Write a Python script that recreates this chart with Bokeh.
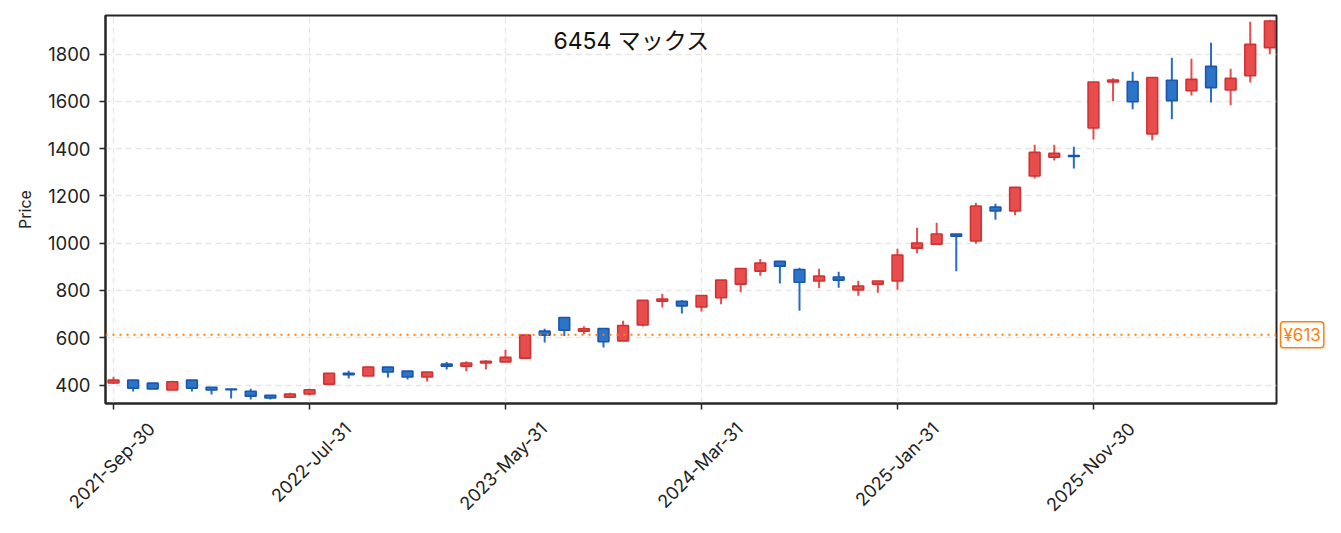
import math
from bokeh.plotting import figure
from bokeh.layouts import row
from bokeh.models import (Range1d, FixedTicker, Label, Span, ColumnDataSource)
from bokeh.embed import file_html
from bokeh.resources import INLINE

# ---- data (monthly OHLC, 6454 マックス) ----
opens = [409, 421, 408, 379, 421, 391, 383, 374, 357, 349,
         362, 404, 450, 438, 476, 459, 434, 489, 480, 493,
         498, 514, 628, 686, 628, 639, 587, 654, 755, 754,
         730, 769, 827, 882, 923, 889, 840, 857, 802, 827,
         840, 979, 996, 1039, 1009, 1153, 1136, 1284, 1364, 1371,
         1487, 1682, 1684, 1462, 1689, 1645, 1748, 1648, 1708, 1827]
highs = [435, 421, 409, 418, 421, 392, 384, 384, 357, 367,
         384, 451, 460, 477, 476, 459, 455, 498, 501, 505,
         549, 613, 638, 686, 649, 640, 672, 758, 786, 759,
         779, 844, 893, 933, 923, 896, 892, 879, 841, 840,
         977, 1065, 1086, 1040, 1171, 1167, 1237, 1416, 1416, 1408,
         1683, 1698, 1725, 1703, 1784, 1780, 1848, 1738, 1937, 1945]
lows = [404, 373, 383, 379, 373, 360, 343, 339, 339, 349,
        356, 404, 428, 438, 432, 424, 415, 466, 458, 466,
        497, 512, 580, 608, 615, 559, 585, 648, 728, 703,
        711, 742, 792, 862, 830, 714, 809, 812, 778, 790,
        803, 957, 996, 881, 998, 1099, 1118, 1274, 1350, 1316,
        1439, 1600, 1566, 1435, 1524, 1625, 1595, 1583, 1680, 1800]
closes = [421, 387, 384, 414, 387, 379, 380, 353, 345, 362,
          380, 450, 444, 476, 455, 434, 455, 480, 493, 501,
          517, 611, 611, 632, 638, 583, 652, 758, 764, 735,
          779, 844, 893, 916, 903, 835, 861, 844, 819, 840,
          950, 1001, 1039, 1030, 1157, 1136, 1236, 1384, 1380, 1367,
          1682, 1690, 1598, 1701, 1603, 1693, 1658, 1697, 1841, 1940]
tick_positions = [0, 10, 20, 30, 40, 50]
tick_labels = ["2021-Sep-30", "2022-Jul-31", "2023-May-31",
               "2024-Mar-31", "2025-Jan-31", "2025-Nov-30"]
y_ticks = [400, 600, 800, 1000, 1200, 1400, 1600, 1800]
ref_price = 613
title_text = "6454  マックス"

FONT = "Inter, 'Noto Sans CJK JP'"
UP_FILL, UP_LINE = "#e84d4d", "#d03232"
DN_FILL, DN_LINE = "#2c74c8", "#1a56ae"
ORANGE = "#ff7f0e"
INK = "#262626"

idx = list(range(len(opens)))
up = [c >= o for o, c in zip(opens, closes)]
src = ColumnDataSource(dict(
    x=idx,
    top=[max(o, c) for o, c in zip(opens, closes)],
    bottom=[min(o, c) for o, c in zip(opens, closes)],
    high=highs, low=lows,
    fill=[UP_FILL if u else DN_FILL for u in up],
    line=[UP_LINE if u else DN_LINE for u in up],
    wick=[UP_FILL if u else "#2a6cc4" for u in up],
))

yr = Range1d(322, 1963)
p = figure(width=1278, height=525, output_backend="svg", toolbar_location=None,
           x_range=Range1d(-0.41, 59.34), y_range=yr,
           min_border_left=105, min_border_right=2, min_border_top=15,
           min_border_bottom=122)
p.background_fill_color = "white"
p.border_fill_color = "white"
p.outline_line_color = INK
p.outline_line_width = 2

# wicks and bodies
p.segment(x0="x", x1="x", y0="low", y1="high", source=src,
          line_color="wick", line_width=2)
p.vbar(x="x", width=0.55, top="top", bottom="bottom", source=src,
       fill_color="fill", line_color="line", line_width=1.6)

# reference price line
p.add_layout(Span(location=ref_price, dimension="width", line_color=ORANGE,
                  line_width=2, line_dash="2 5"))

# title inside plot
p.add_layout(Label(x=26.6, y=1856, text=title_text, text_font=FONT,
                   text_font_size="23px", text_color="#111111",
                   text_align="center", text_baseline="middle"))

# grids
p.xgrid.ticker = FixedTicker(ticks=tick_positions)
p.ygrid.ticker = FixedTicker(ticks=y_ticks)
for g in (p.xgrid, p.ygrid):
    g.grid_line_color = "#e6e6e6"
    g.grid_line_dash = "6 4"
    g.grid_line_width = 1.3

# y axis
ya = p.yaxis[0]
ya.ticker = FixedTicker(ticks=y_ticks)
ya.axis_label = "Price"
ya.axis_label_text_font = FONT
ya.axis_label_text_font_size = "16px"
ya.axis_label_text_font_style = "normal"
ya.axis_label_text_color = "#222222"
ya.axis_label_standoff = 10
ya.major_label_text_font = FONT
ya.major_label_text_font_size = "18.5px"
ya.major_label_text_color = "#222222"
ya.major_label_standoff = 9
ya.axis_line_color = INK
ya.axis_line_width = 2
ya.major_tick_line_color = INK
ya.major_tick_line_width = 1.5
ya.major_tick_out = 6
ya.major_tick_in = 0
ya.minor_tick_line_color = None

# x axis: visible tick marks at the real positions (minor ticks),
# rotated labels centred under them (invisible major ticks)
shift = 1.95
xa = p.xaxis[0]
xa.ticker = FixedTicker(ticks=[t + shift for t in tick_positions],
                        minor_ticks=tick_positions)
xa.major_label_overrides = {t + shift: l for t, l in zip(tick_positions, tick_labels)}
xa.axis_line_color = INK
xa.axis_line_width = 2
xa.major_tick_line_color = None
xa.major_tick_out = 6
xa.major_tick_in = 0
xa.minor_tick_line_color = INK
xa.minor_tick_line_width = 1.5
xa.minor_tick_out = 6
xa.minor_tick_in = 0
xa.major_label_orientation = math.pi / 4
xa.major_label_text_font = FONT
xa.major_label_text_font_size = "18px"
xa.major_label_text_color = "#222222"
xa.major_label_standoff = 16

# price tag to the right of the frame
side = figure(width=55, height=525, output_backend="svg", toolbar_location=None,
              x_range=Range1d(0, 55), y_range=yr,
              x_axis_location=None, y_axis_location=None,
              min_border_left=0, min_border_right=0, min_border_top=15,
              min_border_bottom=122)
side.outline_line_color = None
side.grid.visible = False
side.add_layout(Label(x=2, y=ref_price, text=f"¥{ref_price}",
                      text_font=FONT, text_font_size="17px",
                      text_color=ORANGE, text_align="left",
                      text_baseline="middle",
                      background_fill_color="white",
                      border_line_color=ORANGE, border_line_width=1.5,
                      padding=3, border_radius=3))

open("out.html", "w").write(file_html(row(p, side), INLINE))
